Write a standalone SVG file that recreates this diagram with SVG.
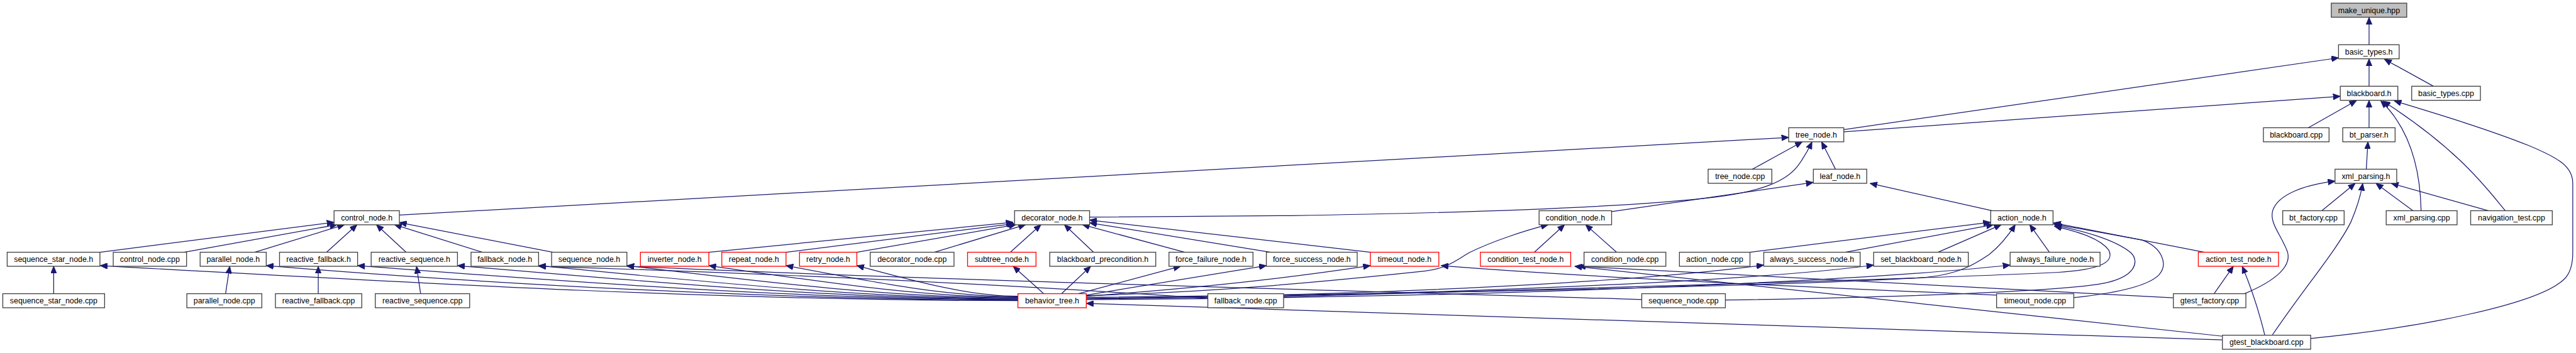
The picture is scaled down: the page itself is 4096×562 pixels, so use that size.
<svg xmlns="http://www.w3.org/2000/svg" width="4096" height="562" viewBox="0 0 4096 562">
<style>
.n rect{fill:#fff;stroke:#404040;stroke-width:1.5}
.n.r rect{stroke:#ff0000}
.n.g rect{fill:#bfbfbf}
.n text{font-family:"Liberation Sans",Arial,sans-serif;font-size:14px;text-anchor:middle;fill:#000}
#edges path{fill:none;stroke:#191970;stroke-width:1.4;marker-end:url(#a)}
</style>
<defs>
<marker id="a" viewBox="0 0 13 11" refX="13" refY="5.5" markerWidth="13" markerHeight="11" markerUnits="userSpaceOnUse" orient="auto"><path d="M0,0 L13,5.5 L0,11 z" fill="#191970" stroke="#191970" stroke-width="1"/></marker>
</defs>
<rect width="4096" height="562" fill="#fff"/>
<g transform="scale(0.8847)">
<g id="edges">
<path d="M4257.9,80.5 L4257.9,31.3"/>
<path d="M4257.9,155.2 L4257.9,106"/>
<path d="M4373.3,155 L4285.3,106.5"/>
<path d="M3313.8,233.3 L4203.2,104"/>
<path d="M3313.8,237.3 L4206.2,173.3"/>
<path d="M4148.5,230 L4235.5,180.8"/>
<path d="M4257.9,229.9 L4257.9,180.5"/>
<path d="M4351.4,379 C4350,310 4335,235 4278.8,181.5"/>
<path d="M4502.6,379 C4470,340 4420,270 4283,182"/>
<path d="M4153,609 C4350,590 4560,548 4608,503 C4622,490 4624,470 4624,455 L4624,330 C4624,300 4600,285 4545,262 C4470,232 4380,205 4303,181.5"/>
<path d="M4252.9,304.5 L4255.9,255.2"/>
<path d="M4173.3,379 L4233,330"/>
<path d="M4336.5,379 L4270.3,330"/>
<path d="M4471.8,379 L4297.7,330"/>
<path d="M4034,528.5 C4090,505 4122,478 4110,450 C4098,420 4078,400 4085,378 C4095,350 4140,333 4197,326"/>
<path d="M4084,603 C4140,520 4200,450 4225,400 C4238,370 4244,345 4246.5,330"/>
<path d="M3979.3,528.5 L4014,479.2"/>
<path d="M4070.4,603 C4060,560 4045,515 4030,479.2"/>
<path d="M3962,453.9 L3691,401"/>
<path d="M3149.6,304.5 L3239.2,255.2"/>
<path d="M3298.9,304.5 L3274,255.2"/>
<path d="M717.8,387 L3214.8,247.3"/>
<path d="M1958.3,390.7 L2320,388 C2700,382 2950,370 3080,355 C3170,344 3210,325 3230,300 C3243,283 3250,270 3256.6,255.2"/>
<path d="M2896.5,380.7 L3259,328.3"/>
<path d="M3580,379.2 L3361,330"/>
<path d="M3145.2,453.9 L3577.4,400"/>
<path d="M3316.3,453.9 L3583,404.3"/>
<path d="M3483,453.9 L3597,404.3"/>
<path d="M3683.4,453.9 L3648,404.3"/>
<path d="M1952.4,535 C2500,530 3200,515 3450,500 C3520,495 3550,475 3575,458 C3598,440 3612,420 3622,404.3"/>
<path d="M3727.2,535.7 C3800,528 3860,515 3880,495 C3898,475 3885,445 3850,432 L3691,403"/>
<path d="M3101,540 C3400,535 3700,525 3780,510 C3840,498 3845,470 3830,455 C3800,430 3740,415 3693,405"/>
<path d="M2307,534 C2700,522 3400,505 3700,490 C3780,485 3800,470 3790,450 C3775,430 3740,418 3692,407"/>
<path d="M2757.7,453.9 L2812,404.3"/>
<path d="M2905.4,453.9 L2849.7,404.3"/>
<path d="M1952.4,532 C2200,525 2400,505 2560,488 C2600,483 2615,470 2640,455 C2680,435 2740,415 2782.6,404.3"/>
<path d="M1273.9,453.9 L1821,400"/>
<path d="M1412.7,453.9 L1822.6,402.5"/>
<path d="M1540,453.9 L1826,404.3"/>
<path d="M1679.3,453.9 L1843.4,404.3"/>
<path d="M1816,453.9 L1870.8,404.3"/>
<path d="M1965.3,453.9 L1913,404.3"/>
<path d="M2129.5,453.9 L1945.4,404.3"/>
<path d="M2283.7,453.9 L1958.3,401"/>
<path d="M2463.2,453.9 L1958.3,396"/>
<path d="M179.6,453.9 L600.4,400"/>
<path d="M330.8,453.9 L606,404.3"/>
<path d="M457.6,453.9 L619.3,404.3"/>
<path d="M587,453.9 L641.7,404.3"/>
<path d="M729.8,453.9 L676.5,404.3"/>
<path d="M867,453.9 L708.9,404.3"/>
<path d="M993.9,453.9 L717.8,400.5"/>
<path d="M96.5,528.5 L96.5,479.2"/>
<path d="M405.4,528.5 L412.9,479.2"/>
<path d="M572,528.5 L572,479.2"/>
<path d="M756,528.5 L748.6,479.2"/>
<path d="M1829.5,541 C1300,541 757,510 180,478"/>
<path d="M1829.5,540 C1400,540 853,509 478.5,478"/>
<path d="M1829.5,539 C1450,539 1030,508 642.7,478"/>
<path d="M1829.5,538 C1500,538 1180,508 822.2,478"/>
<path d="M1829.5,537 C1550,537 1270,507 968,478"/>
<path d="M1829.5,536 C1600,536 1370,507 1126.7,478"/>
<path d="M1829.5,535 C1650,535 1470,506 1274,478"/>
<path d="M1829.5,534 C1700,534 1560,506 1412.7,478"/>
<path d="M1829.5,533 C1740,533 1640,505 1540,478"/>
<path d="M1875.8,528.5 L1821,479.2"/>
<path d="M1908,528.5 L1960.3,479.2"/>
<path d="M1938,528.5 L2122,479.2"/>
<path d="M1952.4,531 L2276,478"/>
<path d="M1952.4,533 C2200,515 2350,495 2463,478"/>
<path d="M1952.4,537 C2600,530 3000,500 3170,477"/>
<path d="M1952.4,538 C2700,530 3200,500 3367.5,477"/>
<path d="M1952.4,539 C2800,535 3400,500 3612.8,477"/>
<path d="M3994.3,611.7 L1952.4,546"/>
<path d="M3994.3,605 L2830,479.2"/>
<path d="M3906.2,536 L2837,479.2"/>
<path d="M3588.4,531 C3200,515 2800,495 2590,478"/>
<path d="M2170.8,537 C1900,518 1500,496 968,479"/>
<path d="M2950.7,539 C2500,525 1700,505 1126.7,479"/>
</g>
<g id="n_make_unique" class="n g"><rect x="4190" y="5.7" width="135.6" height="25.3"/><text x="4257.8" y="23.2">make_unique.hpp</text></g>
<g id="n_basic_types_h" class="n"><rect x="4203" y="80.5" width="109" height="25.3"/><text x="4257.5" y="98">basic_types.h</text></g>
<g id="n_blackboard_h" class="n"><rect x="4206.2" y="155.2" width="103.4" height="25.3"/><text x="4257.9" y="172.7">blackboard.h</text></g>
<g id="n_basic_types_cpp" class="n"><rect x="4334.5" y="155.2" width="123.5" height="25.3"/><text x="4396.3" y="172.7">basic_types.cpp</text></g>
<g id="n_tree_node_h" class="n"><rect x="3214.8" y="229.9" width="99" height="25.3"/><text x="3264.3" y="247.4">tree_node.h</text></g>
<g id="n_blackboard_cpp" class="n"><rect x="4068" y="229.9" width="118" height="25.3"/><text x="4127" y="247.4">blackboard.cpp</text></g>
<g id="n_bt_parser_h" class="n"><rect x="4210.6" y="229.9" width="94.1" height="25.3"/><text x="4257.7" y="247.4">bt_parser.h</text></g>
<g id="n_tree_node_cpp" class="n"><rect x="3070" y="304.5" width="114.5" height="25.3"/><text x="3127.3" y="322">tree_node.cpp</text></g>
<g id="n_leaf_node_h" class="n"><rect x="3259.1" y="304.5" width="96" height="25.3"/><text x="3307.1" y="322">leaf_node.h</text></g>
<g id="n_xml_parsing_h" class="n"><rect x="4196.7" y="304.5" width="110.9" height="25.3"/><text x="4252.2" y="322">xml_parsing.h</text></g>
<g id="n_control_node_h" class="n"><rect x="600.4" y="379.2" width="117.4" height="25.3"/><text x="659.1" y="396.7">control_node.h</text></g>
<g id="n_decorator_node_h" class="n"><rect x="1823.5" y="379.2" width="134.8" height="25.3"/><text x="1890.9" y="396.7">decorator_node.h</text></g>
<g id="n_condition_node_h" class="n"><rect x="2766.2" y="379.2" width="130.3" height="25.3"/><text x="2831.4" y="396.7">condition_node.h</text></g>
<g id="n_action_node_h" class="n"><rect x="3577.9" y="379.2" width="112" height="25.3"/><text x="3633.9" y="396.7">action_node.h</text></g>
<g id="n_bt_factory_cpp" class="n"><rect x="4102.7" y="379.2" width="110.4" height="25.3"/><text x="4157.9" y="396.7">bt_factory.cpp</text></g>
<g id="n_xml_parsing_cpp" class="n"><rect x="4288.7" y="379.2" width="127.4" height="25.3"/><text x="4352.4" y="396.7">xml_parsing.cpp</text></g>
<g id="n_navigation_test_cpp" class="n"><rect x="4440.5" y="379.2" width="146.7" height="25.3"/><text x="4513.9" y="396.7">navigation_test.cpp</text></g>
<g id="n_sequence_star_node_h" class="n"><rect x="12.9" y="453.9" width="166.7" height="25.3"/><text x="96.3" y="471.4">sequence_star_node.h</text></g>
<g id="n_control_node_cpp" class="n"><rect x="203.5" y="453.9" width="131.8" height="25.3"/><text x="269.4" y="471.4">control_node.cpp</text></g>
<g id="n_parallel_node_h" class="n"><rect x="359.7" y="453.9" width="118.8" height="25.3"/><text x="419.1" y="471.4">parallel_node.h</text></g>
<g id="n_reactive_fallback_h" class="n"><rect x="502.4" y="453.9" width="140.3" height="25.3"/><text x="572.6" y="471.4">reactive_fallback.h</text></g>
<g id="n_reactive_sequence_h" class="n"><rect x="667.1" y="453.9" width="155.1" height="25.3"/><text x="744.7" y="471.4">reactive_sequence.h</text></g>
<g id="n_fallback_node_h" class="n"><rect x="846.6" y="453.9" width="121.4" height="25.3"/><text x="907.3" y="471.4">fallback_node.h</text></g>
<g id="n_sequence_node_h" class="n"><rect x="991.4" y="453.9" width="135.3" height="25.3"/><text x="1059.1" y="471.4">sequence_node.h</text></g>
<g id="n_inverter_node_h" class="n r"><rect x="1151" y="453.9" width="123" height="25.3"/><text x="1212.5" y="471.4">inverter_node.h</text></g>
<g id="n_repeat_node_h" class="n r"><rect x="1297.3" y="453.9" width="115.4" height="25.3"/><text x="1355" y="471.4">repeat_node.h</text></g>
<g id="n_retry_node_h" class="n r"><rect x="1437" y="453.9" width="103" height="25.3"/><text x="1488.5" y="471.4">retry_node.h</text></g>
<g id="n_decorator_node_cpp" class="n"><rect x="1564" y="453.9" width="150.6" height="25.3"/><text x="1639.3" y="471.4">decorator_node.cpp</text></g>
<g id="n_subtree_node_h" class="n r"><rect x="1739" y="453.9" width="123" height="25.3"/><text x="1800.5" y="471.4">subtree_node.h</text></g>
<g id="n_blackboard_precondition_h" class="n"><rect x="1886.7" y="453.9" width="190.5" height="25.3"/><text x="1982" y="471.4">blackboard_precondition.h</text></g>
<g id="n_force_failure_node_h" class="n"><rect x="2101" y="453.9" width="151" height="25.3"/><text x="2176.5" y="471.4">force_failure_node.h</text></g>
<g id="n_force_success_node_h" class="n"><rect x="2276" y="453.9" width="163.3" height="25.3"/><text x="2357.7" y="471.4">force_success_node.h</text></g>
<g id="n_timeout_node_h" class="n r"><rect x="2463" y="453.9" width="123" height="25.3"/><text x="2524.5" y="471.4">timeout_node.h</text></g>
<g id="n_condition_test_node_h" class="n r"><rect x="2660.7" y="453.9" width="162.3" height="25.3"/><text x="2741.9" y="471.4">condition_test_node.h</text></g>
<g id="n_condition_node_cpp" class="n"><rect x="2847" y="453.9" width="147" height="25.3"/><text x="2920.5" y="471.4">condition_node.cpp</text></g>
<g id="n_action_node_cpp" class="n"><rect x="3018.4" y="453.9" width="126.8" height="25.3"/><text x="3081.8" y="471.4">action_node.cpp</text></g>
<g id="n_always_success_node_h" class="n"><rect x="3170" y="453.9" width="173.2" height="25.3"/><text x="3256.6" y="471.4">always_success_node.h</text></g>
<g id="n_set_blackboard_node_h" class="n"><rect x="3367.5" y="453.9" width="170.1" height="25.3"/><text x="3452.6" y="471.4">set_blackboard_node.h</text></g>
<g id="n_always_failure_node_h" class="n"><rect x="3612.8" y="453.9" width="161.6" height="25.3"/><text x="3693.6" y="471.4">always_failure_node.h</text></g>
<g id="n_action_test_node_h" class="n r"><rect x="3951" y="453.9" width="144.2" height="25.3"/><text x="4023.1" y="471.4">action_test_node.h</text></g>
<g id="n_sequence_star_node_cpp" class="n"><rect x="5" y="528.5" width="183" height="25.3"/><text x="96.5" y="546">sequence_star_node.cpp</text></g>
<g id="n_parallel_node_cpp" class="n"><rect x="335.8" y="528.5" width="134.8" height="25.3"/><text x="403.2" y="546">parallel_node.cpp</text></g>
<g id="n_reactive_fallback_cpp" class="n"><rect x="495" y="528.5" width="155.2" height="25.3"/><text x="572.6" y="546">reactive_fallback.cpp</text></g>
<g id="n_reactive_sequence_cpp" class="n"><rect x="674.5" y="528.5" width="169.6" height="25.3"/><text x="759.3" y="546">reactive_sequence.cpp</text></g>
<g id="n_behavior_tree_h" class="n r"><rect x="1829.5" y="528.5" width="122.9" height="25.3"/><text x="1891" y="546">behavior_tree.h</text></g>
<g id="n_fallback_node_cpp" class="n"><rect x="2170.8" y="528.5" width="136.2" height="25.3"/><text x="2238.9" y="546">fallback_node.cpp</text></g>
<g id="n_sequence_node_cpp" class="n"><rect x="2950.7" y="528.5" width="150.3" height="25.3"/><text x="3025.9" y="546">sequence_node.cpp</text></g>
<g id="n_timeout_node_cpp" class="n"><rect x="3588.4" y="528.5" width="138.8" height="25.3"/><text x="3657.8" y="546">timeout_node.cpp</text></g>
<g id="n_gtest_factory_cpp" class="n"><rect x="3906.2" y="528.5" width="130.3" height="25.3"/><text x="3971.4" y="546">gtest_factory.cpp</text></g>
<g id="n_gtest_blackboard_cpp" class="n"><rect x="3994.3" y="603.2" width="158.6" height="25.3"/><text x="4073.6" y="620.7">gtest_blackboard.cpp</text></g>
</g>
</svg>
